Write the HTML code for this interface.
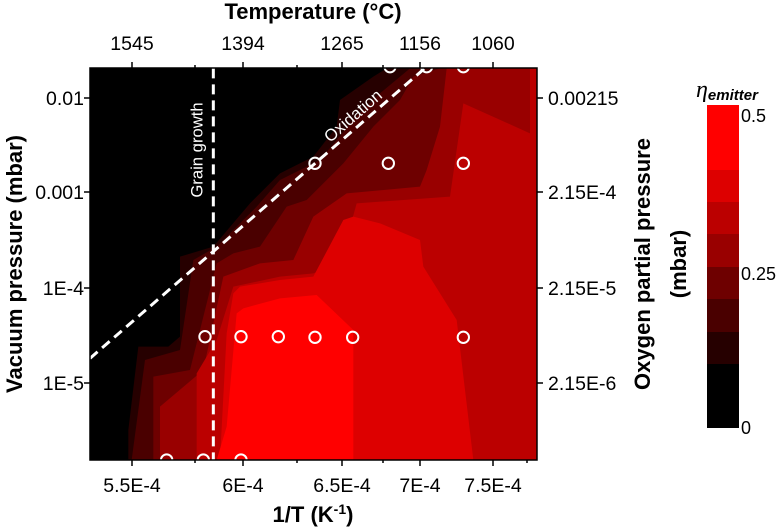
<!DOCTYPE html>
<html><head><style>
body{margin:0;background:#fff;}
svg{display:block;font-family:"Liberation Sans",Arial,sans-serif;}
</style></head><body>
<svg width="780" height="528" viewBox="0 0 780 528">
<g transform="translate(80,60) scale(0.3333333)">
<rect x="30" y="25" width="1340" height="1175" fill="#000"/>
<polygon fill="#260000" points="145,1200 145,1110 175,860 265,860 300,830 300,590 400,560 510,430 600,340 700,290 770,200 780,120 880,50 920,25 1370,25 1370,1200"/>
<polygon fill="#4a0000" points="155,1200 195,900 300,870 340,600 410,560 440,530 530,440 600,360 720,300 820,180 900,100 990,25 1370,25 1370,1200"/>
<polygon fill="#6e0000" points="220,1200 220,950 330,930 410,610 460,580 540,560 620,440 680,420 790,310 880,200 960,120 1000,50 1080,25 1370,25 1370,1200"/>
<polygon fill="#990000" points="240,1200 240,1040 370,930 430,650 540,610 640,600 700,470 800,400 1020,380 1040,330 1080,200 1100,25 1370,25 1370,1200"/>
<polygon fill="#bb0000" points="350,1200 350,940 410,840 460,680 600,650 700,640 780,610 830,430 1110,410 1150,130 1350,220 1350,25 1370,25 1370,1200"/>
<polygon fill="#dd0000" points="420,1200 440,820 460,700 480,680 600,660 700,650 790,480 820,470 900,490 1020,540 1030,620 1130,780 1180,1200"/>
<polygon fill="#ff0000" points="410,1200 440,1100 470,760 490,745 600,715 710,705 820,810 820,1200"/>
<g stroke="#fff" stroke-width="9" fill="none" stroke-dasharray="30 18">
<line x1="400" y1="25" x2="400" y2="1200"/>
<line x1="30" y1="895" x2="1040" y2="20"/>
</g>
<g stroke="#fff" stroke-width="6" fill="none">
<circle cx="930" cy="20" r="17"/><circle cx="1040" cy="20" r="17"/><circle cx="1150" cy="20" r="17"/>
<circle cx="705" cy="310" r="17"/><circle cx="925" cy="310" r="17"/><circle cx="1150" cy="310" r="17"/>
<circle cx="375" cy="830" r="17"/><circle cx="483" cy="830" r="17"/><circle cx="595" cy="830" r="17"/><circle cx="705" cy="832" r="17"/><circle cx="818" cy="832" r="17"/><circle cx="1150" cy="832" r="17"/>
<circle cx="260" cy="1200" r="17"/><circle cx="370" cy="1200" r="17"/><circle cx="483" cy="1200" r="17"/>
</g>
<text x="0" y="0" transform="translate(368,270) rotate(-90)" fill="#fff" font-size="50" text-anchor="middle">Grain growth</text>
<text x="0" y="0" transform="translate(830,180) rotate(-41)" fill="#fff" font-size="50" text-anchor="middle">Oxidation</text>
</g>
<rect x="90" y="68" width="447" height="392" fill="none" stroke="#000" stroke-width="1.5"/>
<g stroke="#000" stroke-width="1.5">
<line x1="132" y1="460" x2="132" y2="466"/><line x1="243" y1="460" x2="243" y2="466"/><line x1="342" y1="460" x2="342" y2="466"/><line x1="420" y1="460" x2="420" y2="466"/><line x1="493" y1="460" x2="493" y2="466"/>
<line x1="195" y1="460" x2="195" y2="463"/><line x1="297" y1="460" x2="297" y2="463"/><line x1="383" y1="460" x2="383" y2="463"/><line x1="527" y1="460" x2="527" y2="463"/>
<line x1="132" y1="68" x2="132" y2="62"/><line x1="243" y1="68" x2="243" y2="62"/><line x1="342" y1="68" x2="342" y2="62"/><line x1="420" y1="68" x2="420" y2="62"/><line x1="493" y1="68" x2="493" y2="62"/>
<line x1="195" y1="68" x2="195" y2="65"/><line x1="297" y1="68" x2="297" y2="65"/><line x1="383" y1="68" x2="383" y2="65"/>
<line x1="90" y1="98" x2="84" y2="98"/><line x1="90" y1="192" x2="84" y2="192"/><line x1="90" y1="288" x2="84" y2="288"/><line x1="90" y1="383" x2="84" y2="383"/>
<line x1="537" y1="98" x2="543" y2="98"/><line x1="537" y1="192" x2="543" y2="192"/><line x1="537" y1="288" x2="543" y2="288"/><line x1="537" y1="383" x2="543" y2="383"/>
</g>
<g font-size="19.5" fill="#000" text-anchor="middle">
<text x="132" y="492">5.5E-4</text><text x="243" y="492">6E-4</text><text x="342" y="492">6.5E-4</text><text x="420" y="492">7E-4</text><text x="493" y="492">7.5E-4</text>
<text x="132" y="50">1545</text><text x="243" y="50">1394</text><text x="342" y="50">1265</text><text x="420" y="50">1156</text><text x="493" y="50">1060</text>
</g>
<g font-size="19.5" fill="#000" text-anchor="end">
<text x="84" y="105">0.01</text><text x="84" y="199">0.001</text><text x="84" y="295">1E-4</text><text x="84" y="390">1E-5</text>
</g>
<g font-size="19.5" fill="#000">
<text x="548" y="105">0.00215</text><text x="548" y="199">2.15E-4</text><text x="548" y="295">2.15E-5</text><text x="548" y="390">2.15E-6</text>
</g>
<g font-size="22" font-weight="bold" fill="#000" text-anchor="middle">
<text x="313" y="19">Temperature (°C)</text>
<text x="313" y="522">1/T (K<tspan font-size="14" dy="-8">-1</tspan><tspan dy="8">)</tspan></text>
<text transform="translate(22,264) rotate(-90)">Vacuum pressure (mbar)</text>
<text transform="translate(650,264) rotate(-90)">Oxygen partial pressure</text>
<text transform="translate(686,264) rotate(-90)">(mbar)</text>
</g>
<rect x="707" y="105" width="32" height="66" fill="#ff0000"/>
<rect x="707" y="170" width="32" height="33" fill="#dd0000"/>
<rect x="707" y="202" width="32" height="33" fill="#bb0000"/>
<rect x="707" y="234" width="32" height="34" fill="#990000"/>
<rect x="707" y="267" width="32" height="33" fill="#6e0000"/>
<rect x="707" y="299" width="32" height="34" fill="#4a0000"/>
<rect x="707" y="332" width="32" height="33" fill="#260000"/>
<rect x="707" y="364" width="32" height="64" fill="#000"/>
<g font-size="18" fill="#000">
<text x="741" y="122">0.5</text><text x="741" y="280">0.25</text><text x="741" y="434">0</text>
</g>
<text x="696" y="97" font-size="24" font-style="italic" font-family="Liberation Serif,serif">η<tspan font-family="Liberation Sans,sans-serif" font-size="15" font-weight="bold" dy="3">emitter</tspan></text>
</svg>
</body></html>
